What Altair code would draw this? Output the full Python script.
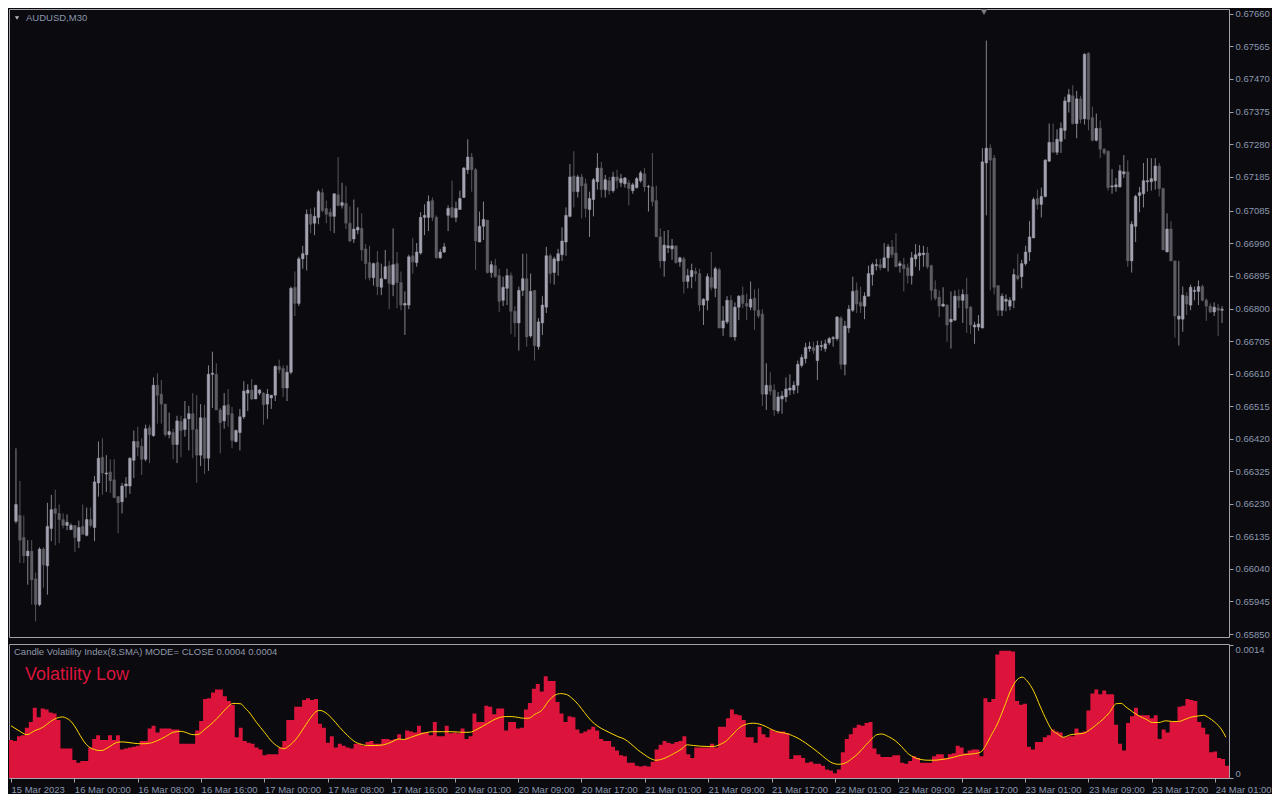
import altair as alt
import pandas as pd

# ---------------- data (prices in points: 1 point = 0.00001) ----------------
open_pts = [66179,66196,66132,66078,66092,66011,65936,66098,66049,66158,66216,66202,66184,66167,66155,66167,66121,66164,66138,66184,
66161,66291,66366,66317,66323,66300,66251,66236,66282,66282,66357,66412,66398,66360,66452,66429,66576,66550,66521,66432,
66438,66403,66470,66447,66478,66493,66447,66372,66481,66363,66608,66608,66504,66472,66519,66493,66412,66438,66484,66553,
66562,66536,66553,66553,66521,66539,66547,66631,66625,66568,66614,66862,66815,66945,66957,67075,67049,67066,67138,67092,
67081,67069,67132,67101,67107,67049,67003,67029,67034,66974,66934,66890,66934,66862,66887,66925,66870,66931,66876,66810,
66810,66954,66934,66962,67066,67066,67115,67066,66948,66965,67072,67095,67066,67089,67124,67205,67242,67205,66994,67040,
67058,66905,66925,66896,66824,66859,66896,66792,66758,66853,66887,66720,66853,66689,66758,66804,66954,66905,66939,66957,
66994,67069,67187,67141,67184,67164,67089,67118,67170,67210,67147,67173,67144,67184,67167,67164,67167,67144,67153,67173,
67193,67155,67155,67115,67009,66939,66977,66974,66983,66936,66945,66879,66893,66908,66902,66810,66824,66890,66859,66913,
66743,66761,66824,66717,66804,66839,66815,66804,66830,66795,66784,66550,66576,66562,66501,66536,66542,66562,66562,66576,
66634,66654,66683,66686,66648,66689,66683,66700,66712,66712,66772,66637,66743,66795,66853,66818,66807,66836,66899,66925,
66928,66919,66948,66980,66962,66925,66928,66919,66896,66945,66954,66957,66962,66925,66856,66833,66807,66810,66761,66766,
66836,66824,66841,66804,66746,66746,66743,67225,67268,67239,66867,66795,66821,66807,66824,66896,66893,66931,66965,67006,
67121,67104,67127,67230,67285,67256,67288,67320,67403,67421,67340,67412,67354,67545,67357,67291,67326,67265,67259,67155,
67155,67155,67193,67199,66939,67040,67130,67135,67170,67170,67173,67216,67150,66965,67032,66939,66769,66769,66836,66810,
66850,66850,66864,66824,66807,66790,66801,66795]
high_pts = [66392,66297,66196,66124,66124,66029,66103,66103,66233,66256,66271,66228,66202,66199,66173,66167,66181,66228,66219,66219,
66311,66412,66421,66372,66360,66360,66253,66291,66308,66366,66444,66455,66421,66461,66461,66599,66611,66591,66521,66496,
66449,66487,66487,66530,66516,66553,66547,66521,66519,66634,66674,66640,66510,66553,66565,66513,66447,66507,66588,66579,
66594,66576,66565,66556,66565,66547,66634,66651,66634,66634,66864,66908,66951,66983,67089,67092,67095,67147,67150,67115,
67092,67135,67242,67167,67158,67098,67118,67095,67078,66988,66983,66934,66968,66931,66971,66939,67034,66965,66908,66850,
66957,67006,66991,67081,67104,67130,67124,67072,66974,66991,67101,67173,67112,67144,67213,67294,67254,67210,67083,67112,
67058,66939,66945,66916,66893,66916,66905,66807,66864,66960,66960,66902,66853,66772,66836,66980,66960,66951,66974,67037,
67095,67222,67259,67190,67193,67179,67141,67181,67254,67228,67190,67184,67199,67205,67193,67184,67176,67167,67184,67202,
67210,67161,67254,67158,67034,67026,67029,67003,66983,66951,66951,66916,66931,66919,66916,66830,66902,66965,66922,66919,
66807,66836,66839,66818,66839,66864,66844,66879,66856,66859,66798,66640,66614,66579,66556,66559,66599,66608,66588,66648,
66666,66700,66703,66703,66706,66706,66709,66717,66720,66778,66778,66764,66810,66893,66876,66864,66847,66925,66934,66945,
66945,66991,66988,67000,67020,66939,66948,66931,66965,66988,66985,66983,66980,66928,66882,66853,66862,66813,66850,66853,
66856,66856,66890,66807,66761,66781,67268,67582,67279,67248,66867,66844,66841,66833,66916,66960,66942,66983,67055,67124,
67147,67153,67236,67340,67340,67323,67343,67418,67441,67452,67435,67421,67545,67548,67389,67369,67349,67268,67262,67207,
67181,67219,67248,67233,67055,67132,67155,67225,67239,67239,67239,67225,67153,67078,67055,66939,66939,66864,66847,66870,
66864,66882,66870,66830,66815,66818,66813,66807]
low_pts = [66173,66057,66057,65994,65936,65887,65931,65985,65965,66121,66109,66115,66158,66153,66153,66089,66101,66141,66135,66161,
66121,66251,66256,66265,66262,66248,66144,66202,66248,66259,66305,66369,66314,66354,66349,66426,66464,66464,66426,66421,
66360,66349,66366,66426,66386,66363,66291,66340,66317,66326,66510,66504,66377,66449,66455,66392,66409,66386,66478,66501,
66533,66536,66547,66461,66478,66507,66530,66611,66542,66530,66608,66778,66807,66916,66911,67020,67014,67046,67081,67049,
67026,67020,67098,67092,67032,66994,66991,67017,66939,66885,66882,66867,66839,66839,66885,66798,66836,66801,66795,66723,
66798,66902,66922,66957,67014,67026,67055,66945,66945,66962,67026,67066,67052,67089,67124,67193,67141,66913,66994,67000,
66902,66890,66890,66790,66807,66810,66726,66717,66677,66836,66689,66715,66648,66680,66723,66787,66873,66870,66896,66939,
66954,67066,67095,67124,67063,67066,67009,67069,67147,67124,67124,67132,67138,67150,67155,67153,67101,67135,67150,67167,
67141,67083,67098,67009,66919,66893,66962,66942,66931,66922,66844,66859,66859,66879,66792,66752,66795,66853,66833,66743,
66720,66755,66717,66706,66766,66801,66766,66795,66738,66772,66516,66504,66547,66487,66493,66493,66527,66547,66550,66553,
66628,66640,66674,66668,66591,66677,66674,66694,66689,66706,66622,66605,66729,66790,66787,66787,66769,66836,66867,66911,
66911,66919,66908,66948,66922,66905,66850,66873,66870,66922,66911,66922,66916,66824,66824,66775,66804,66703,66683,66764,
66801,66758,66729,66726,66697,66735,66743,67072,66853,66841,66778,66778,66792,66795,66801,66882,66859,66925,66939,67006,
67089,67066,67124,67228,67256,67248,67254,67294,67372,67337,67297,67340,67337,67320,67288,67288,67239,67248,67144,67135,
67141,67153,67181,66922,66905,66994,67081,67095,67141,67144,67147,67127,66971,66965,66939,66715,66692,66732,66781,66795,
66824,66810,66821,66764,66787,66778,66720,66758]
close_pts = [66228,66124,66078,66092,66008,65936,66098,66052,66164,66213,66202,66184,66167,66176,66167,66132,66161,66141,66184,66167,
66294,66363,66320,66320,66297,66248,66233,66282,66288,66363,66412,66395,66360,66449,66432,66576,66547,66521,66432,66441,
66403,66472,66444,66478,66493,66447,66372,66481,66363,66608,66611,66504,66467,66516,66490,66415,66444,66484,66559,66562,
66536,66576,66562,66519,66550,66547,66631,66622,66568,66614,66859,66815,66945,66960,67075,67046,67069,67141,67086,67075,
67069,67135,67101,67109,67049,66997,67032,67037,66971,66931,66890,66931,66864,66887,66922,66873,66928,66876,66810,66815,
66951,66936,66965,67066,67072,67112,67066,66948,66965,66980,67092,67066,67092,67121,67210,67242,67205,66997,67040,67060,
66905,66928,66893,66821,66862,66896,66792,66758,66853,66887,66717,66850,66692,66761,66810,66954,66902,66945,66960,66997,
67072,67184,67141,67184,67158,67092,67121,67176,67210,67147,67176,67144,67184,67173,67179,67181,67150,67161,67179,67196,
67155,67156,67112,67009,66939,66985,66983,66983,66934,66948,66879,66896,66911,66902,66810,66827,66893,66862,66916,66743,
66764,66824,66717,66804,66836,66815,66807,66827,66795,66778,66550,66576,66559,66504,66542,66545,66565,66568,66576,66637,
66657,66686,66689,66677,66692,66692,66697,66712,66715,66775,66637,66749,66798,66850,66813,66807,66836,66902,66928,66928,
66919,66948,66980,66957,66922,66931,66916,66896,66948,66957,66962,66962,66922,66853,66830,66807,66813,66752,66769,66836,
66824,66841,66801,66752,66752,66755,67228,67268,67233,66862,66795,66836,66827,66824,66899,66887,66931,66965,67009,67118,
67104,67127,67233,67285,67256,67294,67326,67406,67424,67340,67412,67352,67542,67352,67291,67326,67265,67254,67153,67158,
67161,67202,67199,66939,67046,67127,67138,67173,67173,67179,67216,67150,66971,67032,66939,66778,66778,66839,66813,66862,
66853,66864,66824,66807,66790,66804,66795,66798]

# Candle Volatility Index histogram (points, 1 point = 0.00001)
cvi_pts = [40,39,44,45,53,59,74,64,73,72,69,68,61,31,31,31,19,16,18,18,
32,41,45,40,40,45,40,45,30,31,32,33,34,39,39,52,55,48,52,52,
52,51,51,36,36,36,36,50,60,83,84,90,93,93,86,81,77,43,53,39,
37,36,32,30,24,25,25,25,32,39,61,61,75,75,82,84,82,83,57,53,
37,44,32,36,34,32,31,36,36,34,38,39,36,36,41,41,40,41,46,40,
50,49,48,55,48,48,45,59,44,44,55,47,48,47,52,41,44,68,59,59,
76,75,67,73,73,50,59,59,52,53,72,79,94,99,91,107,102,102,80,68,
59,65,64,51,47,49,51,54,50,41,39,39,33,29,24,23,16,16,13,12,
13,12,17,30,35,39,37,36,38,39,44,25,21,32,32,32,32,36,32,54,
54,63,72,67,66,61,43,43,37,54,46,43,51,49,49,49,47,20,24,24,
21,16,17,15,15,13,9,8,5,9,27,41,46,53,56,55,58,59,31,25,
22,22,22,24,24,16,15,18,23,21,16,16,16,23,25,25,21,25,26,34,
32,26,29,30,30,23,84,80,83,130,134,134,134,133,81,77,78,33,30,38,
38,43,45,51,49,48,43,44,44,52,48,49,71,89,93,88,92,88,88,56,
36,29,58,65,74,66,66,66,63,66,41,51,48,59,59,75,76,83,82,81,
59,53,46,27,28,21,20,13]

# signal line (SMA) read at bar positions
sig_index = [0,2,4,6,8,10,11.5,13,14,15,16,17,18,19,20,21,22,23,24,25,26,27,28,29,31,33,35,37,39,41,43,44,46,47,49,51,53,55,56,58,59,60,62,64,66,68,69,70,72,74,76,77,78,79,81,83,85,87,88,90,92,94,96,98,
99,101.5,104,106.5,109,111.5,114,115.7,117.8,120.3,122.8,124.8,126.5,128.2,129.4,130.7,132.3,134,135.7,137.3,138.8,140.3,141.5,143.2,144.8,146.5,148.2,149.8,151.5,153.2,154.8,156.5,158.2,159.8,161.5,162.8,164,165.7,167.3,169.4,170.7,172.3,174,175.7,177.3,179,180.7,182.3,184,185.7,187.3,189,190.7,192.3,194,195.7,197.3,199,200.7,202.3,204,205.7,207.3,
209,210.7,212.3,214,215.7,217.3,218.6,219.8,221.5,223.2,224.8,226.5,228.2,229.8,231.5,233.2,234.8,236.5,238.2,239.8,241.5,243.2,244.8,246.1,247.3,249,250.7,252.3,254,255.3,256.5,258.2,259.8,261.5,262.8,264,265.7,267.3,269,270.7,272.3,274,275.7,277.3,279,280.3,281.5,283.2,284.8,286.5,288.2,289.8,291.5,293.2,294.8,296.5,298.2,299.8,301.1,302.3,304,305.7,306.7]
sig_pts = [55.0,49.8,45.6,49.8,53.2,59.5,62.9,64.3,62.9,60.2,55.0,48.1,41.1,35.3,31.8,30.1,29.0,29.0,30.8,33.2,36.0,37.7,38.0,37.7,36.6,36.0,36.6,39.4,43.6,48.1,49.1,48.1,45.6,45.6,51.5,58.4,67.1,75.7,78.5,78.1,74.0,69.8,58.4,48.1,37.7,31.8,30.8,33.2,41.1,53.2,65.3,69.8,71.2,69.8,62.9,53.2,44.6,37.7,36.0,34.2,34.2,34.9,37.7,41.1,
40.5,43.6,47.0,48.7,48.7,48.7,48.1,48.1,51.5,57.4,62.9,64.6,64.6,63.6,62.9,62.9,67.1,71.2,80.9,87.1,88.8,87.8,84.4,77.4,68.8,60.2,54.3,50.5,47.0,43.6,41.1,36.0,29.7,24.9,20.4,18.7,19.4,22.1,25.6,30.8,34.9,34.2,33.5,33.2,33.2,35.3,39.4,46.3,53.2,56.7,57.7,56.7,53.9,50.5,48.1,47.0,44.6,41.1,36.6,31.8,26.3,20.4,15.9,
14.4,15.9,20.4,26.3,34.2,41.1,45.6,46.3,43.6,39.4,33.2,25.6,21.4,19.4,18.7,18.7,19.4,20.4,22.1,23.9,24.9,25.6,27.3,34.2,43.6,56.7,74.0,91.3,103.4,106.1,102.3,91.3,75.7,60.2,50.5,47.0,42.9,45.3,46.3,47.0,50.5,56.0,61.9,68.8,78.1,78.5,74.7,69.5,65.3,61.9,58.4,58.4,60.2,59.5,59.5,61.9,64.3,65.3,66.0,63.6,58.4,50.5,42.9]

time_labels = ["15 Mar 2023", "16 Mar 00:00", "16 Mar 08:00", "16 Mar 16:00", "17 Mar 00:00",
               "17 Mar 08:00", "17 Mar 16:00", "20 Mar 01:00", "20 Mar 09:00", "20 Mar 17:00",
               "21 Mar 01:00", "21 Mar 09:00", "21 Mar 17:00", "22 Mar 01:00", "22 Mar 09:00",
               "22 Mar 17:00", "23 Mar 01:00", "23 Mar 09:00", "23 Mar 17:00", "24 Mar 01:00"]
label_step = 16
price_ticks = [0.67660, 0.67565, 0.67470, 0.67375, 0.67280, 0.67185, 0.67085, 0.66990, 0.66895, 0.66800,
               0.66705, 0.66610, 0.66515, 0.66420, 0.66325, 0.66230, 0.66135, 0.66040, 0.65945, 0.65850]
cvi_ticks = [0, 0.0014]

# ---------------- styling ----------------
BG = "#0a0a0f"
FRAME = "#a2a2a8"
LABEL = "#8c98ae"
UP_BODY = "#a2a2b0"
DN_BODY = "#5d5d63"
UP_WICK = "#85858f"
DN_WICK = "#56565c"
CRIMSON = "#dc143c"
GOLD = "#ffd700"
FONT = "Liberation Sans"

W = 1220
H_TOP = 628
H_BOT = 134
N = len(open_pts)

candles = pd.DataFrame({
    "i": list(range(N)),
    "open": [v / 1e5 for v in open_pts],
    "high": [v / 1e5 for v in high_pts],
    "low": [v / 1e5 for v in low_pts],
    "close": [v / 1e5 for v in close_pts],
})

hist = pd.DataFrame({
    "xs": [i - 0.5 for i in range(N)] + [N - 0.5],
    "v": [v / 1e5 for v in cvi_pts] + [cvi_pts[-1] / 1e5],
})
sig = pd.DataFrame({"i": sig_index, "v": [v / 1e5 for v in sig_pts]})

x_scale = alt.Scale(domain=[-0.5, N - 0.5], nice=False, zero=False)
y_top_scale = alt.Scale(domain=[0.658413, 0.676742], nice=False, zero=False)
y_bot_scale = alt.Scale(domain=[0, 0.00141], nice=False, zero=False)

price_axis = alt.Axis(orient="right", values=price_ticks, format=".5f", title=None,
                      labelColor=LABEL, labelFont=FONT, labelFontSize=9.5, tickColor=FRAME,
                      tickSize=4, labelPadding=2, domain=False, grid=False, labelOverlap=False,
                      labelFlush=False)

is_up = alt.datum.close >= alt.datum.open

wicks = alt.Chart(candles).mark_rule(strokeWidth=1, clip=True).encode(
    x=alt.X("i:Q", scale=x_scale, axis=None),
    y=alt.Y("low:Q", scale=y_top_scale, axis=price_axis),
    y2="high:Q",
    color=alt.when(is_up).then(alt.value(UP_WICK)).otherwise(alt.value(DN_WICK)),
)
bodies = alt.Chart(candles).mark_bar(size=2.6, strokeWidth=0.5, clip=True).encode(
    x=alt.X("i:Q", scale=x_scale, axis=None),
    y=alt.Y("open:Q", scale=y_top_scale, axis=price_axis),
    y2="close:Q",
    fill=alt.when(is_up).then(alt.value(UP_BODY)).otherwise(alt.value(DN_BODY)),
    stroke=alt.when(is_up).then(alt.value(UP_BODY)).otherwise(alt.value(DN_BODY)),
)
sym_title = alt.Chart(pd.DataFrame({"t": ["AUDUSD,M30"]})).mark_text(
    align="left", baseline="middle", font=FONT, fontSize=9.5, color=LABEL
).encode(text="t:N", x=alt.value(17), y=alt.value(9))
sym_tri = alt.Chart(pd.DataFrame({"t": ["m"]})).mark_point(
    shape="triangle-down", filled=True, size=18, color="#b8b8c0", opacity=1
).encode(x=alt.value(8), y=alt.value(9))
shift_tri = alt.Chart(pd.DataFrame({"t": ["m"]})).mark_point(
    shape="triangle-down", filled=True, size=45, color="#7a7a82", opacity=1
).encode(x=alt.value(975), y=alt.value(3))

top = alt.layer(wicks, bodies, sym_title, sym_tri, shift_tri).properties(width=W, height=H_TOP)

label_expr = "[" + ",".join("'" + s + "'" for s in time_labels) + "][round(datum.value/" + str(label_step) + ")]"
time_axis = alt.Axis(values=list(range(0, label_step * len(time_labels), label_step)), labelExpr=label_expr,
                     labelAlign="left", labelColor=LABEL, labelFont=FONT, labelFontSize=9.5,
                     tickColor=FRAME, tickSize=4, labelPadding=2, domain=False, grid=False,
                     labelOverlap=False, labelFlush=False, title=None)
cvi_axis = alt.Axis(orient="right", values=cvi_ticks, format=".4~f", title=None, labelColor=LABEL,
                    labelFont=FONT, labelFontSize=9.5, tickColor=FRAME, tickSize=4, labelPadding=2,
                    domain=False, grid=False, labelFlush=True, labelOverlap=False)

bars = alt.Chart(hist).mark_area(interpolate="step-after", color=CRIMSON, clip=True).encode(
    x=alt.X("xs:Q", scale=x_scale, axis=time_axis),
    y=alt.Y("v:Q", scale=y_bot_scale, axis=cvi_axis),
)
line = alt.Chart(sig).mark_line(interpolate="monotone", color=GOLD, strokeWidth=1, clip=True).encode(
    x=alt.X("i:Q", scale=x_scale, axis=time_axis),
    y=alt.Y("v:Q", scale=y_bot_scale, axis=cvi_axis),
)
ind_title = alt.Chart(pd.DataFrame({"t": ["Candle Volatility Index(8,SMA) MODE= CLOSE 0.0004 0.0004"]})).mark_text(
    align="left", baseline="middle", font=FONT, fontSize=9.5, color="#9098a8"
).encode(text="t:N", x=alt.value(5), y=alt.value(8))
vol_text = alt.Chart(pd.DataFrame({"t": ["Volatility Low"]})).mark_text(
    align="left", baseline="middle", font=FONT, fontSize=18, color=CRIMSON
).encode(text="t:N", x=alt.value(16), y=alt.value(31))

bottom = alt.layer(bars, line, ind_title, vol_text).properties(width=W, height=H_BOT)

chart = alt.vconcat(top, bottom, spacing=3).properties(
    background=BG, padding={"left": 0, "top": 0, "right": 0, "bottom": 0}
).configure_view(stroke=FRAME, strokeWidth=1).configure_axis(grid=False)

chart.save("out.html", embed_options={"renderer": "svg", "actions": False})
